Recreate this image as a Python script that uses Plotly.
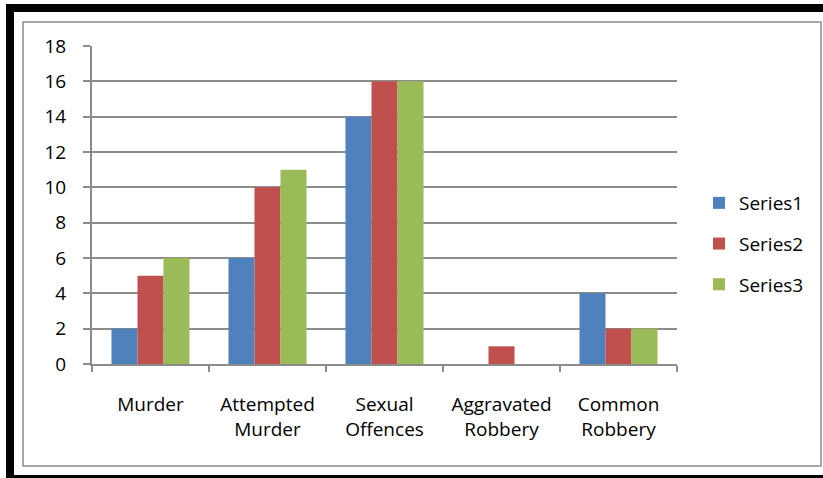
import plotly.graph_objects as go

categories = ["Murder", "Attempted<br>Murder", "Sexual<br>Offences", "Aggravated<br>Robbery", "Common<br>Robbery"]
series1 = [2, 6, 14, 0, 4]
series2 = [5, 10, 16, 1, 2]
series3 = [6, 11, 16, 0, 2]
y_ticks = list(range(0, 19, 2))

W, H = 823, 478
L, R, T, B = 92, 677, 46, 364  # plot area in pixels

def px_x(x):
    return (x - L) / (R - L)

def px_y(y):
    return (B - y) / (B - T)

FONT = "Open Sans"
GRID = "#8c8c8c"

fig = go.Figure()
for name, vals, col in [("Series1", series1, "#4F81BD"),
                        ("Series2", series2, "#C0504D"),
                        ("Series3", series3, "#9BBB59")]:
    fig.add_trace(go.Bar(x=categories, y=vals, name=name, marker_color=col,
                         marker_line_width=0, legendgroup=name))

shapes = [
    # inner chart frame
    dict(type="rect", xref="paper", yref="paper",
         x0=px_x(23), x1=px_x(821), y0=px_y(466), y1=px_y(22),
         line=dict(color="#8c8c8c", width=1.5), layer="below"),
    # outer heavy frame
    dict(type="rect", xref="paper", yref="paper",
         x0=px_x(10), x1=px_x(835), y0=px_y(479), y1=px_y(8),
         line=dict(color="black", width=8), layer="below"),
]

fig.update_layout(
    width=W, height=H,
    margin=dict(l=L, r=W - R, t=T, b=H - B, pad=0),
    paper_bgcolor="white", plot_bgcolor="white",
    barmode="group", bargap=0.333, bargroupgap=0,
    font=dict(family=FONT, size=19, color="black"),
    shapes=shapes,
    showlegend=True,
    legend=dict(x=px_x(699), y=px_y(184), xanchor="left", yanchor="top",
                font=dict(size=19, family=FONT), tracegroupgap=13,
                traceorder="grouped", bgcolor="rgba(0,0,0,0)",
                itemwidth=30),
)
fig.update_yaxes(range=[0, 18], tickvals=y_ticks, showgrid=True, gridcolor=GRID,
                 gridwidth=2, showline=True, linecolor=GRID, linewidth=2,
                 ticks="outside", ticklen=7, tickwidth=2, tickcolor=GRID,
                 ticklabelstandoff=13, zeroline=False, fixedrange=True)
fig.update_xaxes(showline=True, linecolor=GRID, linewidth=2, ticks="outside",
                 tickson="boundaries", ticklen=6, tickwidth=2, tickcolor=GRID,
                 ticklabelstandoff=22, showgrid=False)

fig.write_html("out.html")
